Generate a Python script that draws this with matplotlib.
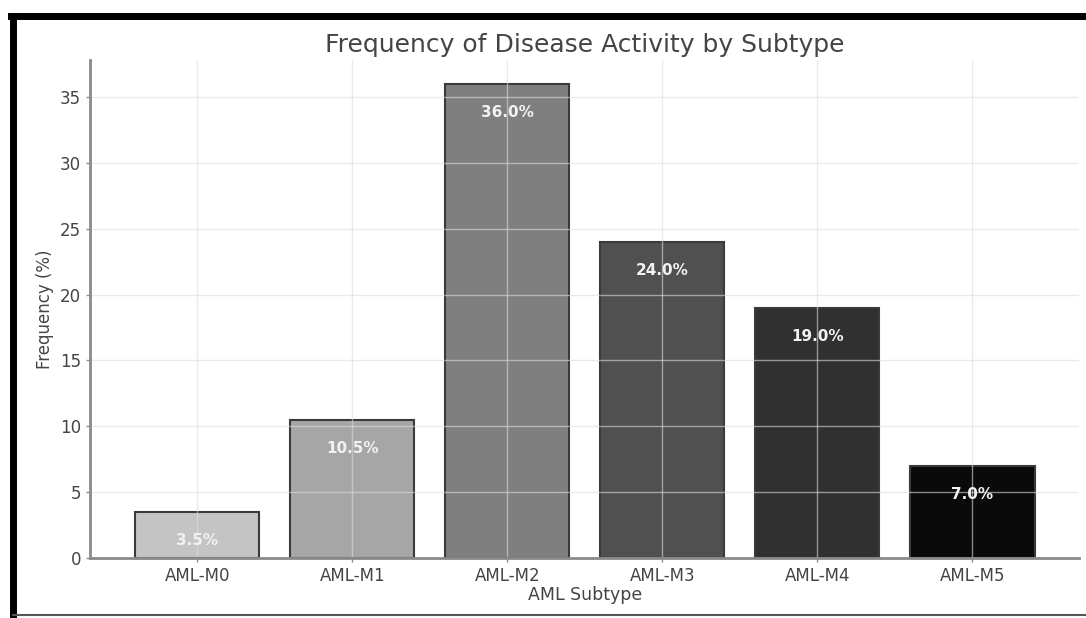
import matplotlib
matplotlib.use("Agg")
import matplotlib.pyplot as plt
from matplotlib.lines import Line2D

subtypes = ["AML-M0", "AML-M1", "AML-M2", "AML-M3", "AML-M4", "AML-M5"]
freqs = [3.5, 10.5, 36.0, 24.0, 19.0, 7.0]
colors = ["#c4c4c4", "#a6a6a6", "#7f7f7f", "#505050", "#303030", "#0a0a0a"]

fig = plt.figure(figsize=(10.86, 6.18), dpi=100)
ax = fig.add_axes([0.083, 0.097, 0.911, 0.806])

text_col = "#444444"
bars = ax.bar(subtypes, freqs, width=0.8, color=colors, edgecolor="#3a3a3a", linewidth=1.5)

for b, v in zip(bars, freqs):
    ax.text(b.get_x() + b.get_width() / 2, v - 2.2, f"{v:.1f}%", ha="center", va="center",
            color="#f2f2f2", fontsize=11, fontweight="bold")

ax.grid(True, color="#dddddd", linewidth=1.0, alpha=0.6)
for s in ["top", "right"]:
    ax.spines[s].set_visible(False)
for s in ["left", "bottom"]:
    ax.spines[s].set_color("#8a8a8a")
    ax.spines[s].set_linewidth(2)
ax.tick_params(axis="both", colors="#8a8a8a", labelcolor=text_col, labelsize=12, length=3, width=1)

ax.set_title("Frequency of Disease Activity by Subtype", fontsize=18, color=text_col, pad=6)
ax.set_xlabel("AML Subtype", fontsize=12.5, color=text_col, labelpad=1)
ax.set_ylabel("Frequency (%)", fontsize=12, color=text_col, labelpad=4)

# frame around the picture: thick black left/top, thin grey bottom
fig.add_artist(Line2D([13 / 1086, 13 / 1086], [2 / 618, 1 - 16 / 618], transform=fig.transFigure,
                      color="black", linewidth=5))
fig.add_artist(Line2D([11 / 1086, 1.0], [1 - 16 / 618, 1 - 16 / 618], transform=fig.transFigure,
                      color="black", linewidth=5))
fig.add_artist(Line2D([13 / 1086, 1.0], [3 / 618, 3 / 618], transform=fig.transFigure,
                      color="#555555", linewidth=1.5))

fig.savefig("out.png", dpi=100)
